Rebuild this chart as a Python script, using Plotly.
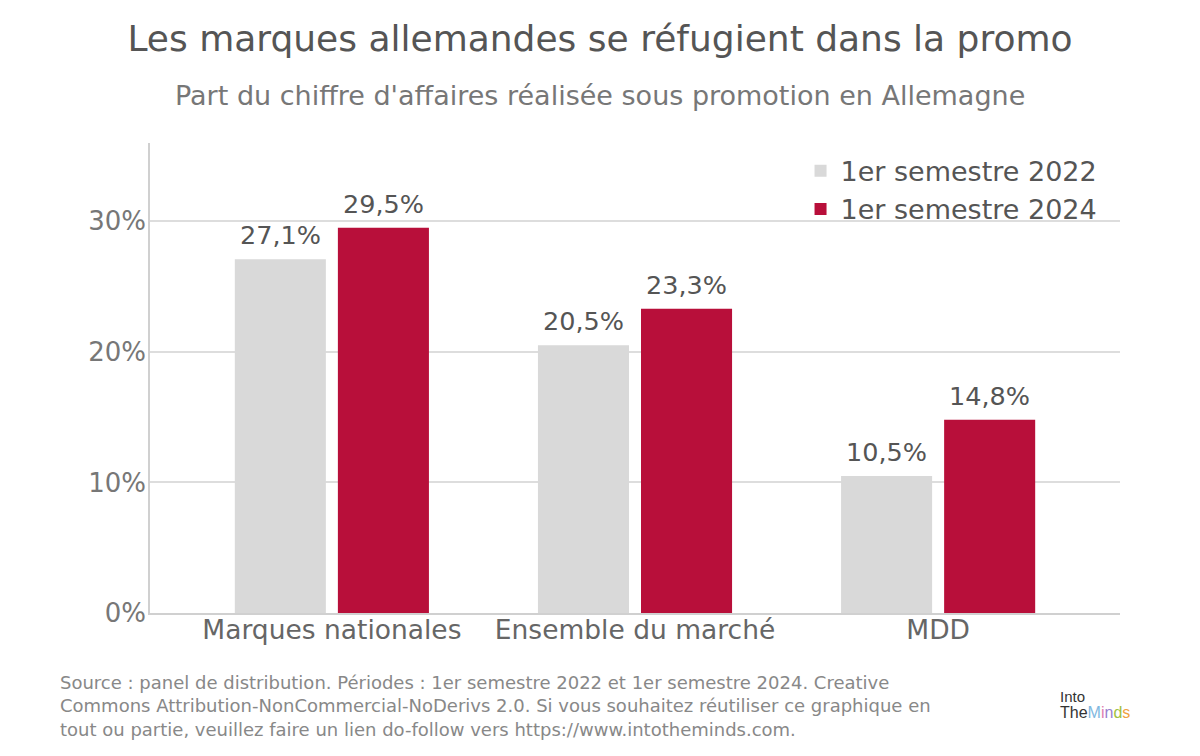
import plotly.graph_objects as go

categories = ['Marques nationales', 'Ensemble du marché', 'MDD']
series_names = ['1er semestre 2022', '1er semestre 2024']
values_2022 = [27.1, 20.5, 10.5]
values_2024 = [29.5, 23.3, 14.8]
tick_vals = [0, 10, 20, 30]
tick_text = ['0%', '10%', '20%', '30%']

colors = ['#d9d9d9', '#b80f3a']
font = 'DejaVu Sans'

# page has an 8px body margin, so figure coords = screen coords - 8
L, T, PW = 142, 135, 970
BARGAP, GROUPGAP = 0.32, 0.1165
CAT_PX = PW / 3.2  # pixels per category unit


def fmt(v):
    return '{:.1f}%'.format(v).replace('.', ',')


def px_x(x):
    return (x - 8 - L) / PW


fig = go.Figure()
all_vals = [values_2022, values_2024]
for name, vals, col in zip(series_names, all_vals, colors):
    fig.add_trace(go.Bar(
        x=categories, y=vals, name=name, marker=dict(color=col, line=dict(width=0)),
    ))

# value labels above bars
slot = (1 - BARGAP) / 2
for k, vals in enumerate(all_vals):
    shift = (k - 0.5) * slot * CAT_PX
    for cat, v in zip(categories, vals):
        fig.add_annotation(x=cat, y=v, text=fmt(v), showarrow=False,
                           xshift=shift, yshift=7, yanchor='bottom',
                           font=dict(size=25.5, color='#555555', family=font))

fig.update_layout(
    width=1200, height=756,
    paper_bgcolor='white', plot_bgcolor='white',
    margin=dict(l=L, r=1200 - L - PW, t=T, b=151),
    barmode='group', bargap=BARGAP, bargroupgap=GROUPGAP,
    font=dict(family=font, color='#666666'),
    showlegend=True,
    legend=dict(x=0.982, y=0.992, xanchor='right', yanchor='top',
                font=dict(size=27, color='#555555', family=font),
                bgcolor='rgba(0,0,0,0)', itemwidth=30, tracegroupgap=0),
    title=dict(text='Les marques allemandes se réfugient dans la promo',
               x=592 / 1200, xanchor='center', y=1 - 30 / 756, yanchor='middle',
               font=dict(size=36, color='#555555', family=font)),
)

fig.update_xaxes(range=[-0.6, 2.6], showline=True, linecolor='#d0d0d0', linewidth=1.5,
                 ticks='', ticklabelstandoff=-8,
                 tickfont=dict(size=26.5, color='#666666', family=font))
fig.update_yaxes(range=[0, 36], tickvals=tick_vals, ticktext=tick_text,
                 showgrid=True, gridcolor='#dddddd', gridwidth=1.5,
                 showline=True, linecolor='#d0d0d0', linewidth=1.5, zeroline=False,
                 ticks='', ticklabelstandoff=-3,
                 tickfont=dict(size=26, color='#777777', family=font))

fig.add_annotation(text="Part du chiffre d'affaires réalisée sous promotion en Allemagne",
                   xref='paper', yref='paper', x=px_x(599.5), y=1, yshift=143 - 95,
                   showarrow=False, xanchor='center', yanchor='middle',
                   font=dict(size=27, color='#777777', family=font))

source = ("Source : panel de distribution. Périodes : 1er semestre 2022 et 1er semestre 2024. Creative<br>"
          "Commons Attribution-NonCommercial-NoDerivs 2.0. Si vous souhaitez réutiliser ce graphique en<br>"
          "tout ou partie, veuillez faire un lien do-follow vers https://www.intotheminds.com.")
fig.add_annotation(text=source, xref='paper', yref='paper',
                   x=px_x(58), y=0, yshift=-(706 - 613),
                   showarrow=False, xanchor='left', yanchor='middle', align='left',
                   font=dict(size=18, color='#888888', family=font))

# logo text
fig.add_annotation(text="Into", xref='paper', yref='paper',
                   x=px_x(1058), y=0, yshift=-(696 - 613),
                   showarrow=False, xanchor='left', yanchor='middle',
                   font=dict(size=15, color='#333333', family='Liberation Sans'))
fig.add_annotation(text="The<span style='color:#7fb8e0'>M</span><span style='color:#e080b0'>i</span>"
                        "<span style='color:#9a7fd0'>n</span><span style='color:#a0c040'>d</span>"
                        "<span style='color:#f0a040'>s</span>",
                   xref='paper', yref='paper',
                   x=px_x(1058), y=0, yshift=-(712 - 613),
                   showarrow=False, xanchor='left', yanchor='middle',
                   font=dict(size=16, color='#333333', family='Liberation Sans'))

fig.write_html("out.html")
